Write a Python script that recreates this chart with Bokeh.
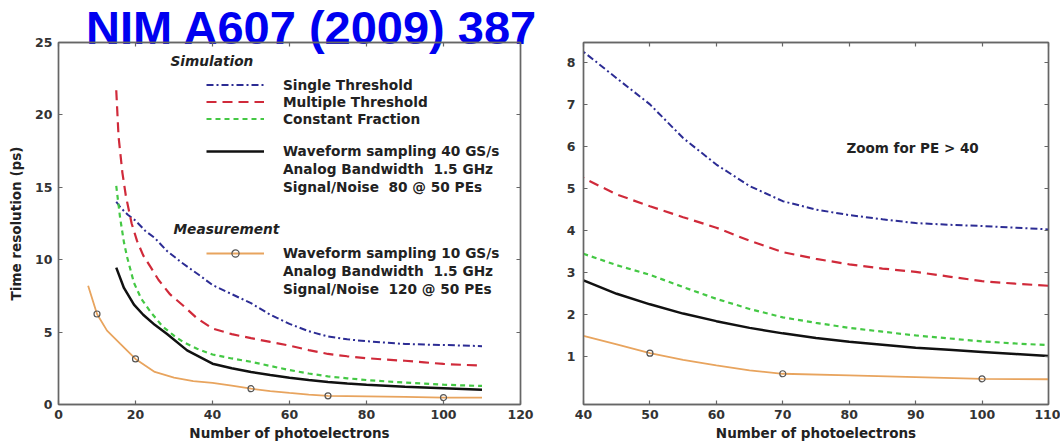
from bokeh.plotting import figure
from bokeh.models import Range1d, LinearAxis, FixedTicker, Label, Legend, LegendItem, Div
from bokeh.layouts import row, column
from bokeh.embed import file_html
from bokeh.resources import INLINE

# ---------------- data ----------------
# Simulation: Single Threshold
st_x = [15, 16.1, 18, 20, 22.5, 25, 28.2, 32, 37, 40, 45, 50, 55, 60, 65, 70, 75, 80, 85, 90, 95, 100, 105, 110]
st_y = [14.0, 13.6, 13.1, 12.7, 12.0, 11.5, 10.6, 9.8, 8.85, 8.25, 7.62, 7.0, 6.2, 5.57, 5.06, 4.7, 4.5, 4.37, 4.27, 4.18, 4.14, 4.11, 4.07, 4.03]
# Simulation: Multiple Threshold
mt_x = [15, 15.6, 16.6, 17.5, 19, 20.4, 22, 23.9, 26, 29, 32.5, 36, 40, 45, 50, 55, 60, 65, 70, 75, 80, 85, 90, 95, 100, 105, 110]
mt_y = [21.7, 18.5, 16.0, 14.4, 12.5, 11.3, 10.3, 9.5, 8.6, 7.6, 6.8, 5.95, 5.25, 4.86, 4.58, 4.32, 4.07, 3.76, 3.49, 3.33, 3.2, 3.1, 3.02, 2.91, 2.8, 2.74, 2.69]
# Simulation: Constant Fraction
cf_x = [15, 15.5, 16, 17, 17.8, 19.6, 21.5, 23.9, 27, 30, 32.5, 36, 40, 45, 50, 55, 60, 65, 70, 75, 80, 85, 90, 95, 100, 105, 110]
cf_y = [15.1, 14.0, 12.9, 11.2, 10.2, 8.4, 7.3, 6.4, 5.4, 4.75, 4.3, 3.85, 3.45, 3.18, 2.95, 2.66, 2.38, 2.14, 1.94, 1.81, 1.69, 1.6, 1.51, 1.44, 1.37, 1.32, 1.28]
# Simulation: waveform sampling 40 GS/s
wf_x = [15, 17, 19.6, 22, 25, 28.2, 33.4, 40, 45, 50, 55, 60, 65, 70, 75, 80, 85, 90, 95, 100, 105, 110]
wf_y = [9.45, 8.05, 6.9, 6.2, 5.5, 4.87, 3.74, 2.82, 2.5, 2.25, 2.03, 1.85, 1.69, 1.56, 1.45, 1.36, 1.29, 1.22, 1.17, 1.12, 1.07, 1.02]
# Measurement: waveform sampling 10 GS/s (fit line and measured points)
me_x = [7.7, 10, 12.6, 16, 20, 25, 30, 35, 40, 45, 50, 55, 60, 65, 70, 80, 90, 100, 110]
me_y = [8.2, 6.25, 5.1, 4.2, 3.15, 2.25, 1.85, 1.62, 1.5, 1.3, 1.09, 0.93, 0.8, 0.68, 0.6, 0.56, 0.52, 0.48, 0.47]
pt_x = [10, 20, 50, 70, 100]
pt_y = [6.25, 3.15, 1.09, 0.6, 0.48]

left_xticks = [0, 20, 40, 60, 80, 100, 120]
left_yticks = [0, 5, 10, 15, 20, 25]
right_xticks = [40, 50, 60, 70, 80, 90, 100, 110]
right_yticks = [1, 2, 3, 4, 5, 6, 7, 8]

title_text = "NIM A607 (2009) 387"
xlabel = "Number of photoelectrons"
ylabel = "Time resolution (ps)"

# ---------------- style ----------------
FONT = "DejaVu Sans"
BLUE = "#2c2c94"
RED = "#d02a3a"
GREEN = "#44c844"
BLACK = "#111111"
ORANGE = "#e8a45e"
AXC = "#666666"


def style_axis(ax, ticks, standoff=6):
    ax.ticker = FixedTicker(ticks=ticks)
    ax.major_tick_in = 4
    ax.major_tick_out = 0
    ax.minor_tick_line_color = None
    ax.axis_line_color = AXC
    ax.axis_line_width = 1.4
    ax.major_tick_line_color = AXC
    ax.major_tick_line_width = 1.2
    ax.major_label_text_font = FONT
    ax.major_label_text_font_style = "bold"
    ax.major_label_text_font_size = "12.5px"
    ax.major_label_text_color = "#333333"
    ax.major_label_standoff = standoff
    ax.axis_label_text_font = FONT
    ax.axis_label_text_font_style = "bold"
    ax.axis_label_text_font_size = "13.5px"
    ax.axis_label_text_color = "#222222"


def hidden_axis(ticks):
    ax = LinearAxis()
    style_axis(ax, ticks, standoff=0)
    ax.major_label_text_font_size = "0px"
    ax.major_label_text_alpha = 0
    return ax


def base_fig(width, xr, yr, mb):
    p = figure(width=width, height=444, x_range=Range1d(*xr), y_range=Range1d(*yr),
               output_backend="svg", toolbar_location=None,
               min_border_left=mb[0], min_border_right=mb[1],
               min_border_top=mb[2], min_border_bottom=mb[3])
    p.xgrid.visible = False
    p.ygrid.visible = False
    p.outline_line_color = AXC
    p.outline_line_width = 1.4
    p.background_fill_alpha = 0
    p.border_fill_alpha = 0
    return p


def draw_curves(p):
    r1 = p.line(st_x, st_y, line_color=BLUE, line_width=2, line_dash="7 3 2 3")
    r2 = p.line(mt_x, mt_y, line_color=RED, line_width=2.2, line_dash="10 6")
    r3 = p.line(cf_x, cf_y, line_color=GREEN, line_width=2.2, line_dash="5 4")
    r4 = p.line(wf_x, wf_y, line_color=BLACK, line_width=2.5)
    r5 = p.line(me_x, me_y, line_color=ORANGE, line_width=1.8)
    r6 = p.scatter(pt_x, pt_y, marker="circle", size=6, fill_color=None,
                   line_color="#555555", line_width=1.2)
    return r1, r2, r3, r4, r5, r6


# ---------------- left panel ----------------
p1 = base_fig(550, (0, 120), (0, 25), (58, 30, 42, 40))
style_axis(p1.xaxis[0], left_xticks, standoff=5)
style_axis(p1.yaxis[0], left_yticks, standoff=6)
p1.xaxis[0].axis_label = xlabel
p1.xaxis[0].axis_label_standoff = 3
p1.yaxis[0].axis_label = ylabel
p1.yaxis[0].axis_label_standoff = 8
p1.add_layout(hidden_axis(left_xticks), "above")
p1.add_layout(hidden_axis(left_yticks), "right")

r1, r2, r3, r4, r5, r6 = draw_curves(p1)
d1 = p1.line(x=[], y=[], line_alpha=0)
d2 = p1.line(x=[], y=[], line_alpha=0)


def add_legend(p, items, loc, row_h):
    lg = Legend(items=items, location=loc, orientation="vertical",
                padding=0, margin=0, spacing=0,
                glyph_width=58, glyph_height=row_h, label_height=row_h,
                label_standoff=19, border_line_color=None,
                background_fill_alpha=0,
                label_text_font=FONT, label_text_font_style="bold",
                label_text_font_size="13.7px", label_text_color="#222222",
                label_text_line_height=1.0)
    p.add_layout(lg, "center")


add_legend(p1, [LegendItem(label="Single Threshold", renderers=[r1]),
                LegendItem(label="Multiple Threshold", renderers=[r2]),
                LegendItem(label="Constant Fraction", renderers=[r3])],
           (148, 277), 17)
add_legend(p1, [LegendItem(label="Waveform sampling 40 GS/s", renderers=[r4]),
                LegendItem(label="Analog Bandwidth  1.5 GHz", renderers=[d1]),
                LegendItem(label="Signal/Noise  80 @ 50 PEs", renderers=[d2])],
           (148, 208), 18)
add_legend(p1, [LegendItem(label="Waveform sampling 10 GS/s", renderers=[r5, r6]),
                LegendItem(label="Analog Bandwidth  1.5 GHz", renderers=[d1]),
                LegendItem(label="Signal/Noise  120 @ 50 PEs", renderers=[d2])],
           (148, 106), 18)

for txt, x, y in (("Simulation", 112, 344), ("Measurement", 115, 176)):
    p1.add_layout(Label(x=x, y=y, x_units="screen", y_units="screen", text=txt,
                        text_font=FONT, text_font_style="bold italic",
                        text_font_size="13.7px", text_color="#222222",
                        text_baseline="middle"))

# ---------------- right panel (zoom) ----------------
p2 = base_fig(510, (40, 110), (-0.13, 8.47), (33, 12, 12, 38))
style_axis(p2.xaxis[0], right_xticks, standoff=5)
style_axis(p2.yaxis[0], right_yticks, standoff=8)
p2.xaxis[0].axis_label = xlabel
p2.xaxis[0].axis_label_standoff = 3
p2.add_layout(hidden_axis(right_xticks), "above")
p2.add_layout(hidden_axis(right_yticks), "right")
draw_curves(p2)
p2.add_layout(Label(x=263, y=257, x_units="screen", y_units="screen", text="Zoom for PE > 40",
                    text_font=FONT, text_font_style="bold",
                    text_font_size="13.5px", text_color="#222222",
                    text_baseline="middle"))

# ---------------- title (overlapping the top of the left panel) ----------------
title = Div(
    text=('<div style="font-family:\'Liberation Sans\',Arial,sans-serif;font-weight:bold;'
          'font-size:47px;line-height:normal;color:#0000f0;padding-left:86px;'
          'white-space:nowrap;margin:0">' + title_text + '</div>'),
    width=1060, height=62, margin=(0, 0, -62, 0))

layout = column(title, row(p1, p2), spacing=0)
open("out.html", "w").write(file_html(layout, INLINE))
